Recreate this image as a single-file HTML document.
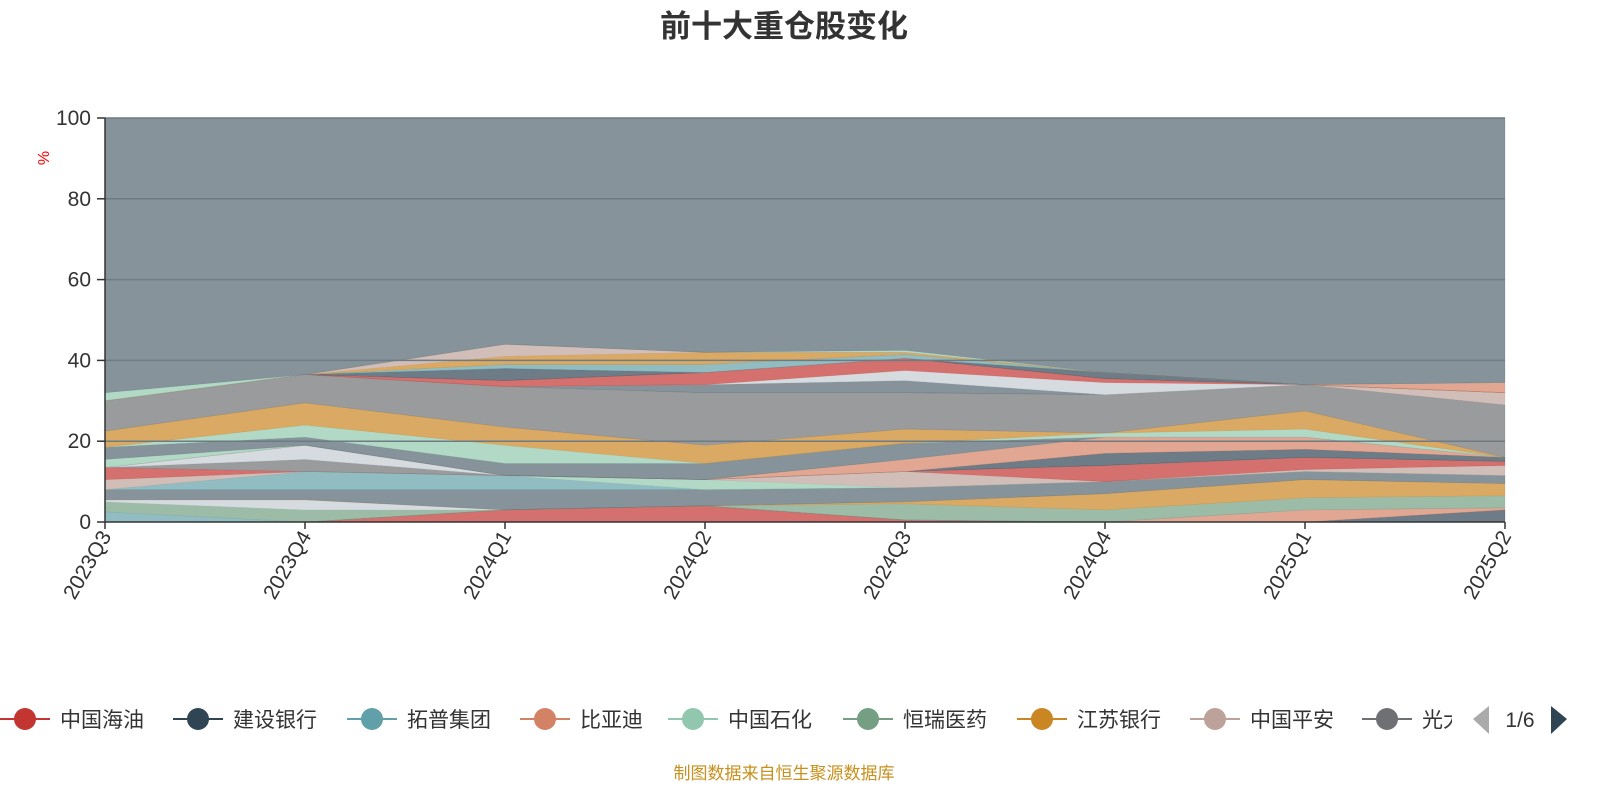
<!DOCTYPE html>
<html><head><meta charset="utf-8"><style>
body{margin:0;background:#fff;width:1600px;height:800px;overflow:hidden;font-family:"Liberation Sans","Noto Sans CJK SC",sans-serif;}
</style></head><body>
<svg id="chart" width="1600" height="800" xmlns="http://www.w3.org/2000/svg" font-family="Liberation Sans, Noto Sans CJK SC, sans-serif">
<text x="784" y="37" text-anchor="middle" font-size="31" font-weight="bold" fill="#333">前十大重仓股变化</text>
<text x="0" y="0" transform="translate(49,158) rotate(-90)" text-anchor="middle" font-size="16" fill="#f00">%</text>
<g id="areas"></g>
<g id="grid"></g>
<g id="axes"></g>
<g id="legend"></g>
<text x="784" y="779" text-anchor="middle" font-size="17" fill="#c8901d">制图数据来自恒生聚源数据库</text>
</svg>
<script>
const categories=["2023Q3","2023Q4","2024Q1","2024Q2","2024Q3","2024Q4","2025Q1","2025Q2"];
const yTicks=[0,20,40,60,80,100];
const legendNames=["中国海油","建设银行","拓普集团","比亚迪","中国石化","恒瑞医药","江苏银行","中国平安","光大银行"];
const palette=["#c23531","#2f4554","#61a0a8","#d48265","#91c7ae","#749f83","#ca8622","#bda29a","#6e7074","#546570","#c4ccd3"];
const layerColors=[0,1,3,2,5,10,6,9,2,4,7,0,8,10,1,3,4,9,4,6,8,7,9,10,0,1,2,6,7,3,4];
const s1=[0,0,3,4,0.5,0,0,0];
const s2=[0,0,0,0,0,0,0,3];
const s3=[0,0,0,0,0,0,3,0.5];
const s4=[2.5,0,0,0,0,0,0,0];
const s5=[2.5,3,0,0,4,3,3,3];
const s6=[0.5,2.5,0,0,0,0,0,0];
const s7=[0,0,0,0,0.5,4,4.5,3];
const s8=[2.5,2.5,5,4,3.5,3,2,2];
const s9=[0,4.5,3.5,0,0,0,0,0];
const s10=[0,0,0,2.5,0,0,0,0];
const s11=[2.5,0,0,0,4,0,0.5,2.5];
const s12=[3,0,0,0,0,4,3,1];
const s13=[0,3,0,0,0,0,0,0];
const s14=[0,3.5,0,0,0,0,0,0];
const s15=[0,0,0,0,0,3,2,1];
const s16=[0,0,0,0,3,4,3,0];
const s17=[2,0,0,0,0,0,0,0];
const s18=[3,2,3,4,4,0,0,0];
const s19=[0,3,4.5,0,0,1,2,0];
const s20=[4,5.5,4.5,4.5,3.5,0,4.5,0];
const s21=[7.5,7,10,13,9,9.5,6.5,13];
const s22=[0,0,0,0,0,0,0,3];
const s23=[0,0,0,2,3,0,0,0];
const s24=[0,0,0,0,2.5,3,0,0];
const s25=[0,0,1.5,3,3,1,0,0];
const s26=[0,0,3,0,0,1.5,0,0];
const s27=[0,0,1,2,1,0,0,0];
const s28=[0,0,2,3,0.5,0,0,0];
const s29=[0,0,3,0,0,0,0,0];
const s30=[0,0,0,0,0,0,0,2.5];
const s31=[2,0,0,0,0.5,0,0,0];
const series=[s1,s2,s3,s4,s5,s6,s7,s8,s9,s10,s11,s12,s13,s14,s15,s16,s17,s18,s19,s20,s21,s22,s23,s24,s25,s26,s27,s28,s29,s30,s31];
const NS="http://www.w3.org/2000/svg";
const X0=105,X1=1505,Y0=522,Y1=118;
const xScale=i=>X0+i*(X1-X0)/(categories.length-1);
const yScale=v=>Y0-v*(Y0-Y1)/100;
function mk(tag,attrs,parent){const e=document.createElementNS(NS,tag);for(const k in attrs)e.setAttribute(k,attrs[k]);parent.appendChild(e);return e;}
const areas=document.getElementById('areas');
let base=categories.map(()=>0);
const rest=categories.map((c,i)=>100-series.reduce((a,s)=>a+s[i],0));
const all=series.concat([rest]);
all.forEach((s,si)=>{
  const top=base.map((b,i)=>b+s[i]);
  let d="M"+top.map((v,i)=>xScale(i)+","+yScale(v)).join("L");
  for(let i=categories.length-1;i>=0;i--)d+="L"+xScale(i)+","+yScale(base[i]);
  d+="Z";
  const col=si<series.length?palette[layerColors[si%layerColors.length]]:"#546570";
  const p=mk('path',{d:d,fill:col,'fill-opacity':0.7,stroke:col,'stroke-opacity':0.3,'stroke-width':0.6},areas);
  
  
  base=top;
});
const grid=document.getElementById('grid');
yTicks.forEach(t=>{
  if(t>0){const l=mk('line',{x1:X0,x2:X1,y1:yScale(t),y2:yScale(t),stroke:'#6f7b83','stroke-width':1.5},grid);
  
  }
});
const axes=document.getElementById('axes');
mk('line',{x1:X0,x2:X0,y1:Y1,y2:Y0,stroke:'#333','stroke-width':1.5},axes);
mk('line',{x1:X0,x2:X1,y1:Y0,y2:Y0,stroke:'#333','stroke-width':1.5},axes);
yTicks.forEach(t=>{
  mk('line',{x1:X0-8,x2:X0,y1:yScale(t),y2:yScale(t),stroke:'#333','stroke-width':1.5},axes);
  const tx=mk('text',{x:X0-14,y:yScale(t)+7,'text-anchor':'end','font-size':21,fill:'#333'},axes);
  tx.textContent=t;
  
  
});
categories.forEach((c,i)=>{
  const x=xScale(i);
  mk('line',{x1:x,x2:x,y1:Y0,y2:Y0+7,stroke:'#333','stroke-width':1.5},axes);
  const tx=mk('text',{x:0,y:0,transform:`translate(${x+7},${Y0+14}) rotate(-60)`,'text-anchor':'end','font-size':21,fill:'#333'},axes);
  tx.textContent=c;
  
  
});
const lg=document.getElementById('legend');
const lx=[0,173,347,520,668,843,1017,1190,1362];
const clip=mk('clipPath',{id:'lgclip'},lg);mk('rect',{x:0,y:690,width:1452,height:60},clip);
const lgi=mk('g',{'clip-path':'url(#lgclip)'},lg);
legendNames.forEach((n,i)=>{
  const g=mk('g',{},lgi);
  
  
  const col=palette[i];
  mk('line',{x1:lx[i],x2:lx[i]+50,y1:719,y2:719,stroke:col,'stroke-width':2},g);
  mk('circle',{cx:lx[i]+25,cy:719,r:11,fill:col},g);
  const t=mk('text',{x:lx[i]+60,y:727,'font-size':21,fill:'#333'},g);t.textContent=n;
});
const pl=mk('path',{d:'M1489,706 L1473,719 L1489,734 Z',fill:'#aaa'},lg);


const pt=mk('text',{x:1520,y:727,'text-anchor':'middle','font-size':21,fill:'#333'},lg);pt.textContent='1/6';


const pr=mk('path',{d:'M1551,706 L1567,719 L1551,734 Z',fill:'#2f4554'},lg);


</script>
</body></html>
